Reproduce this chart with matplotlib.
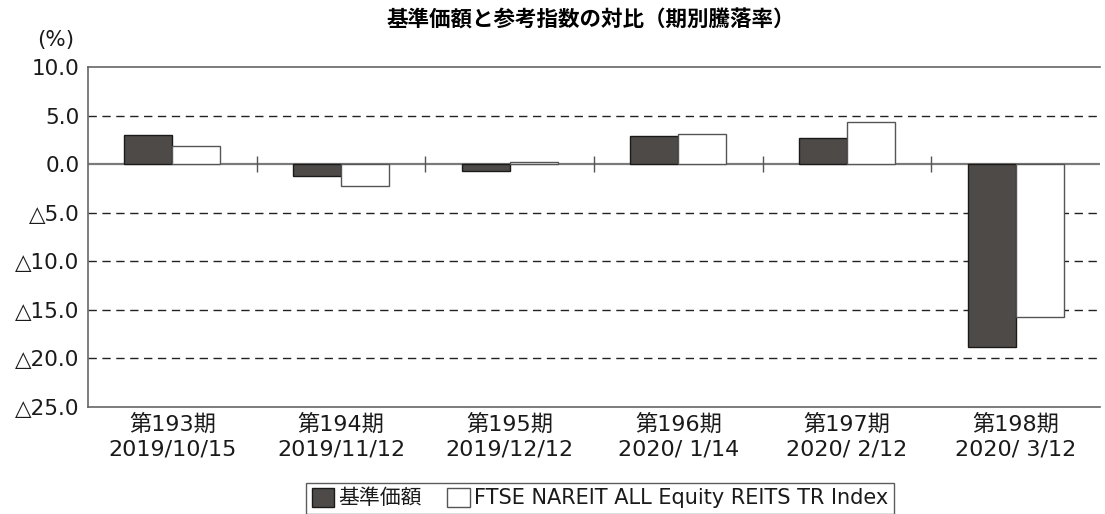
import matplotlib.pyplot as plt
import numpy as np

plt.rcParams['font.family'] = ['DejaVu Sans', 'Noto Sans CJK JP']

# dati
periodi = ["第193期", "第194期", "第195期", "第196期", "第197期", "第198期"]
date = ["2019/10/15", "2019/11/12", "2019/12/12", "2020/ 1/14", "2020/ 2/12", "2020/ 3/12"]
fondo = [3.0, -1.2, -0.7, 2.9, 2.7, -18.8]
indice = [1.9, -2.3, 0.2, 3.1, 4.3, -15.7]
yticks = [10, 5, 0, -5, -10, -15, -20, -25]

fig = plt.figure(figsize=(11.05, 5.14), dpi=100)
ax = fig.add_axes([0.0796, 0.2082, 0.9159, 0.6614])

x = np.arange(len(periodi))
w = 0.285

# griglia tratteggiata
for v in yticks:
    if v not in (0, 10, -25):
        ax.axhline(v, color='#222222', linestyle=(0, (6, 4)), linewidth=1.0, zorder=0)

ax.axhline(0, color='#7a7a7a', linewidth=1.6, zorder=1)
ax.vlines(x[:-1] + 0.5, -0.8, 0.8, color='#555555', linewidth=1.0, zorder=1)

ax.bar(x - w / 2, fondo, w, color='#4d4a48', edgecolor='#1a1a1a', linewidth=1.0, zorder=2)
ax.bar(x + w / 2, indice, w, color='white', edgecolor='#555555', linewidth=1.0, zorder=2)

ax.set_xlim(-0.5, len(periodi) - 0.5)
ax.set_ylim(-25, 10)
ax.set_yticks(yticks)
ax.set_yticklabels([("△%.1f" % -v) if v < 0 else ("%.1f" % v) for v in yticks],
                   fontsize=15.5, color='#1a1a1a')
ax.set_xticks(x)
ax.set_xticklabels([p + "\n" + d for p, d in zip(periodi, date)], fontsize=16,
                   linespacing=1.3, color='#1a1a1a')
ax.tick_params(axis='both', length=0)
ax.tick_params(axis='y', pad=6)
ax.tick_params(axis='x', pad=5)

for s in ['left', 'top', 'bottom']:
    ax.spines[s].set_color('#666666')
    ax.spines[s].set_linewidth(1.2)
ax.spines['right'].set_visible(False)

fig.text(0.535, 0.961, "基準価額と参考指数の対比（期別騰落率）", ha='center', va='center',
         fontsize=15.5, fontweight='bold')
fig.text(0.05, 0.922, "(%)", ha='center', va='center', fontsize=15.5, color='#1a1a1a')

h1 = plt.Rectangle((0, 0), 1, 1, facecolor='#4d4a48', edgecolor='#1a1a1a')
h2 = plt.Rectangle((0, 0), 1, 1, facecolor='white', edgecolor='#555555')
leg = fig.legend([h1, h2], ["基準価額", "FTSE NAREIT ALL Equity REITS TR Index"],
                 loc='upper center', bbox_to_anchor=(0.543, 0.061), ncol=2, fontsize=15,
                 frameon=True, fancybox=False, handlelength=1.1, handleheight=1.0,
                 handletextpad=0.2, columnspacing=1.2, borderpad=0.25, borderaxespad=0)
leg.get_frame().set_edgecolor('#333333')
leg.get_frame().set_linewidth(1.0)
for t in leg.get_texts():
    t.set_color('#1a1a1a')

plt.savefig("out.png", dpi=100)
plt.close()
